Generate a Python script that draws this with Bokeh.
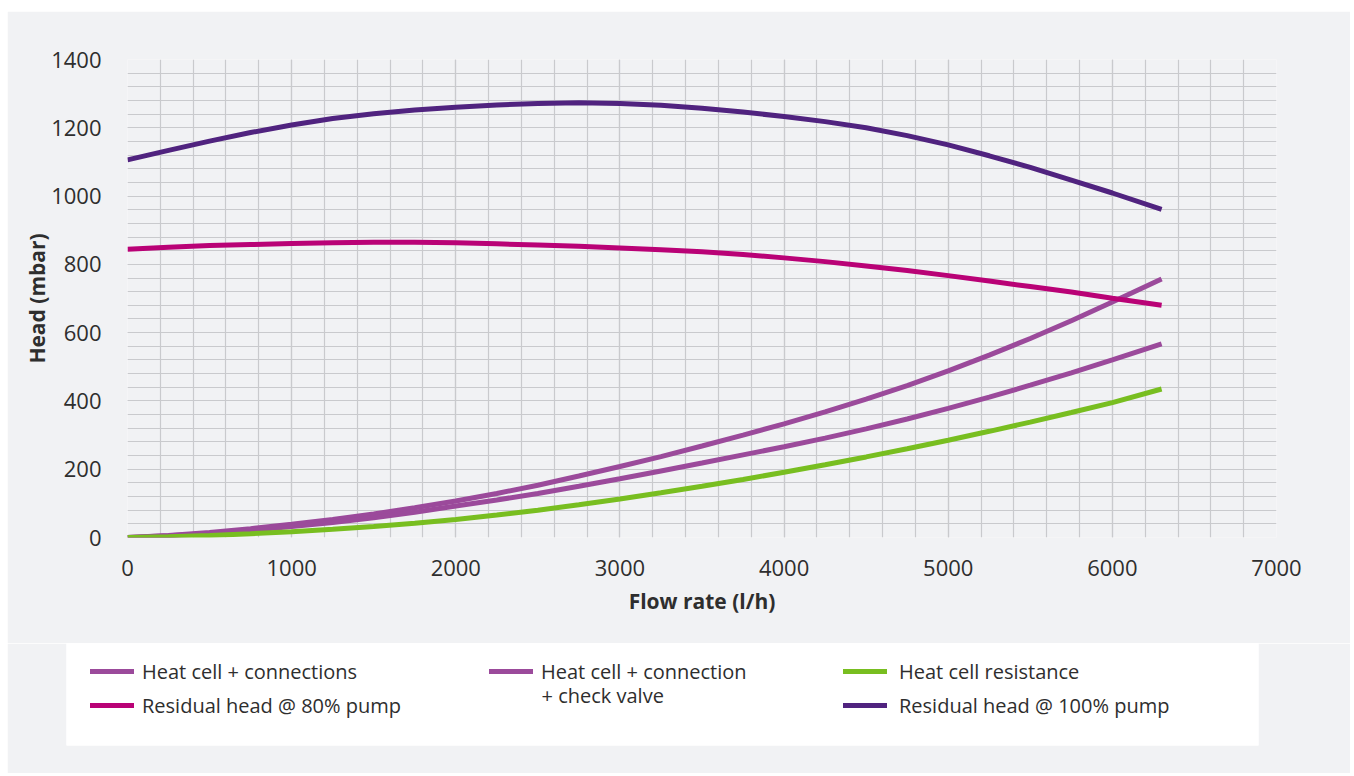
from bokeh.plotting import figure
from bokeh.layouts import column, row
from bokeh.models import Range1d, SingleIntervalTicker, Legend, LegendItem, Label, Spacer
from bokeh.embed import file_html
from bokeh.resources import INLINE

flow = [0, 250, 500, 750, 1000, 1250, 1500, 1750, 2000, 2250, 2500, 2750, 3000,
        3250, 3500, 3750, 4000, 4250, 4500, 4750, 5000, 5250, 5500, 5750, 6000, 6300]
heat_cell_connections = [0, 6, 15, 26, 39, 53, 69, 87, 107, 129, 153, 180, 208,
                         237, 268, 300, 333, 368, 405, 445, 488, 534, 583, 635, 690, 757]
heat_cell_check_valve = [0, 5, 12, 21, 32, 44, 58, 74, 92, 110, 129, 150, 172,
                         195, 218, 242, 266, 291, 318, 347, 378, 411, 446, 482, 520, 567]
heat_cell_resistance = [0, 2, 6, 11, 17, 24, 32, 42, 53, 66, 80, 96, 113,
                        131, 150, 170, 191, 213, 236, 260, 285, 311, 338, 366, 395, 435]
residual_80 = [844, 850, 855, 858, 861, 863, 865, 865, 863, 860, 857, 853, 848,
               843, 837, 829, 819, 808, 795, 782, 767, 751, 735, 719, 701, 680]
residual_100 = [1106, 1134, 1161, 1186, 1208, 1227, 1241, 1252, 1260, 1267, 1271, 1273, 1271,
                1266, 1257, 1246, 1233, 1218, 1200, 1177, 1150, 1118, 1084, 1047, 1009, 961]

x_label = "Flow rate (l/h)"
y_label = "Head (mbar)"
names = ["Heat cell + connections", "Heat cell + connection", "+ check valve",
         "Heat cell resistance", "Residual head @ 80% pump", "Residual head @ 100% pump"]

BG = "#f1f2f4"
GRID = "#c9cacd"
TXT = "#2e2e2e"
C_CONN = "#9b4a9b"
C_CHECK = "#9b4a9b"
C_GREEN = "#78be20"
C_MAG = "#b90276"
C_PURPLE = "#50237f"
FONT = "Open Sans"
LW = 5

p = figure(frame_width=1149, frame_height=478, min_border_left=120, min_border_top=48,
           min_border_right=74, min_border_bottom=106,
           x_range=Range1d(0, 7000), y_range=Range1d(0, 1400),
           output_backend="svg", toolbar_location=None,
           background_fill_color=BG, border_fill_color=BG, outline_line_color=None)
p.frame_align = False

p.xaxis.ticker = SingleIntervalTicker(interval=1000, num_minor_ticks=5)
p.yaxis.ticker = SingleIntervalTicker(interval=200, num_minor_ticks=5)
for ax in (p.xaxis, p.yaxis):
    ax.axis_line_color = None
    ax.major_tick_line_color = None
    ax.minor_tick_line_color = None
    ax.major_label_text_font = FONT
    ax.major_label_text_font_size = "22px"
    ax.major_label_text_color = TXT
    ax.axis_label_text_font = FONT
    ax.axis_label_text_font_style = "bold"
    ax.axis_label_text_font_size = "21px"
    ax.axis_label_text_color = TXT
p.xaxis.axis_label = x_label
p.yaxis.axis_label = y_label
p.xaxis.major_label_standoff = 16
p.xaxis.axis_label_standoff = 8
p.yaxis.major_label_standoff = 20
p.yaxis.axis_label_standoff = -3

for g in (p.xgrid, p.ygrid):
    g.grid_line_color = GRID
    g.minor_grid_line_color = GRID
    g.grid_line_width = 1.2
    g.minor_grid_line_width = 1.2

p.line(flow, heat_cell_connections, line_color=C_CONN, line_width=LW)
p.line(flow, heat_cell_check_valve, line_color=C_CHECK, line_width=LW)
p.line(flow, heat_cell_resistance, line_color=C_GREEN, line_width=LW)
p.line(flow, residual_80, line_color=C_MAG, line_width=LW)
p.line(flow, residual_100, line_color=C_PURPLE, line_width=LW)

# legend panel
q = figure(frame_width=1192, frame_height=102, min_border_left=59, min_border_right=92,
           min_border_top=0, min_border_bottom=28,
           x_range=Range1d(0, 1), y_range=Range1d(0, 1),
           x_axis_type=None, y_axis_type=None,
           output_backend="svg", toolbar_location=None,
           background_fill_color="white", border_fill_color=BG, outline_line_color=None)
q.frame_align = False
q.xgrid.visible = False
q.ygrid.visible = False

nan = float("nan")
styles = {}
for key, col in (("conn", C_CONN), ("check", C_CHECK), ("green", C_GREEN),
                 ("mag", C_MAG), ("purple", C_PURPLE)):
    styles[key] = q.line([nan], [nan], line_color=col, line_width=LW, line_cap="round")


def make_legend(items, loc, standoff):
    return Legend(items=items, location=loc, orientation="vertical",
                  background_fill_alpha=0, border_line_color=None,
                  padding=0, margin=0, spacing=6, label_standoff=standoff,
                  glyph_width=44, glyph_height=28, label_height=28,
                  label_text_font=FONT, label_text_font_size="20px",
                  label_text_color=TXT)


lg1 = make_legend([LegendItem(label=names[0], renderers=[styles["conn"]]),
                   LegendItem(label=names[4], renderers=[styles["mag"]])], (24, 26), 8)
lg2 = make_legend([LegendItem(label=names[1], renderers=[styles["check"]])], (423, 60), 8)
lg3 = make_legend([LegendItem(label=names[3], renderers=[styles["green"]]),
                   LegendItem(label=names[5], renderers=[styles["purple"]])], (777, 26), 12)
for lg in (lg1, lg2, lg3):
    q.add_layout(lg)

q.add_layout(Label(x=475, y=50, x_units="screen", y_units="screen", text=names[2],
                   text_font=FONT, text_font_size="20px", text_color=TXT,
                   text_baseline="middle"))

layout = column(Spacer(height=11),
                row(Spacer(width=7), column(p, q, spacing=0), spacing=0),
                spacing=0)
open("out.html", "w").write(file_html(layout, INLINE))
